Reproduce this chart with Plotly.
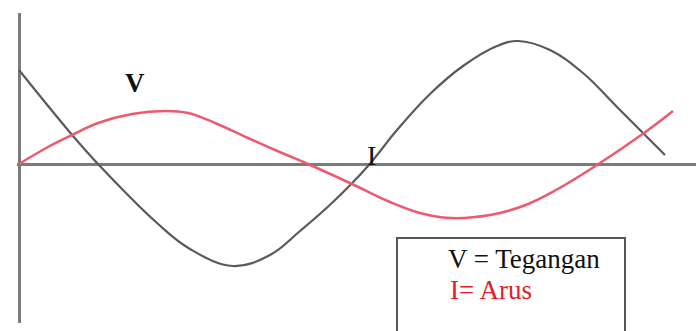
import plotly.graph_objects as go

# Voltage (gray) and current (red) waveforms, sampled points (time units, amplitude units)
v_t = [0, 54, 79, 138, 171, 214, 251, 281, 314, 349, 378, 411, 444, 478, 499,
       531, 564, 598, 646]
v_amp = [94, 28, 0, -59, -85, -102, -91, -67, -38, -2, 34, 70, 98, 118, 123,
         114, 91, 57, 9]

i_t = [0, 29, 53, 79, 113, 146, 169, 196, 229, 263, 289, 333, 371, 401, 431,
       471, 504, 537, 578, 625, 654]
i_amp = [0, 17, 29, 41, 50, 53, 51, 41, 26, 11, 0, -20, -38, -49, -54,
         -51, -42, -26, -1, 31, 53]

v_name = "V = Tegangan"
i_name = "I= Arus"

W, H = 696, 331
SERIF = "Liberation Serif, DejaVu Serif, serif"
GRAY = "#5a5a5a"
RED = "#eb5a6e"

fig = go.Figure()
fig.add_trace(go.Scatter(x=v_t, y=v_amp, mode="lines", name=v_name,
                         line=dict(color=GRAY, width=2.2, shape="spline", smoothing=1.1)))
fig.add_trace(go.Scatter(x=i_t, y=i_amp, mode="lines", name=i_name,
                         line=dict(color=RED, width=2.5, shape="spline", smoothing=1.1)))

# curve labels
fig.add_annotation(x=116, y=81, text="<b>V</b>", showarrow=False,
                   font=dict(family=SERIF, size=27, color="#111"))
fig.add_annotation(x=352, y=9, text="I", showarrow=False,
                   font=dict(family=SERIF, size=28, color="#111"))

# key box, cut off at the bottom edge
fig.add_shape(type="rect", xref="paper", yref="paper",
              x0=397 / W, x1=625 / W, y0=-0.1, y1=(H - 238) / H,
              line=dict(color="#555", width=2), fillcolor="rgba(0,0,0,0)")
fig.add_annotation(xref="paper", yref="paper", x=446 / W, y=(H - 259) / H,
                   xanchor="left", yanchor="middle", showarrow=False,
                   text=v_name, font=dict(family=SERIF, size=27, color="#111"))
fig.add_annotation(xref="paper", yref="paper", x=448 / W, y=(H - 290) / H,
                   xanchor="left", yanchor="middle", showarrow=False,
                   text=i_name, font=dict(family=SERIF, size=27, color="#e0202e"))

axis_common = dict(showgrid=False, showticklabels=False, ticks="", showline=False,
                   zeroline=True, zerolinecolor="#7b7b7b", zerolinewidth=3)
fig.update_layout(
    width=W, height=H,
    margin=dict(l=0, r=0, t=0, b=0),
    paper_bgcolor="white", plot_bgcolor="white",
    showlegend=False,
    xaxis=dict(domain=[17 / W, 1], range=[-2, 677], **axis_common),
    yaxis=dict(domain=[8 / H, 318 / H], range=[-159, 151], **axis_common),
)

fig.write_html("out.html")
